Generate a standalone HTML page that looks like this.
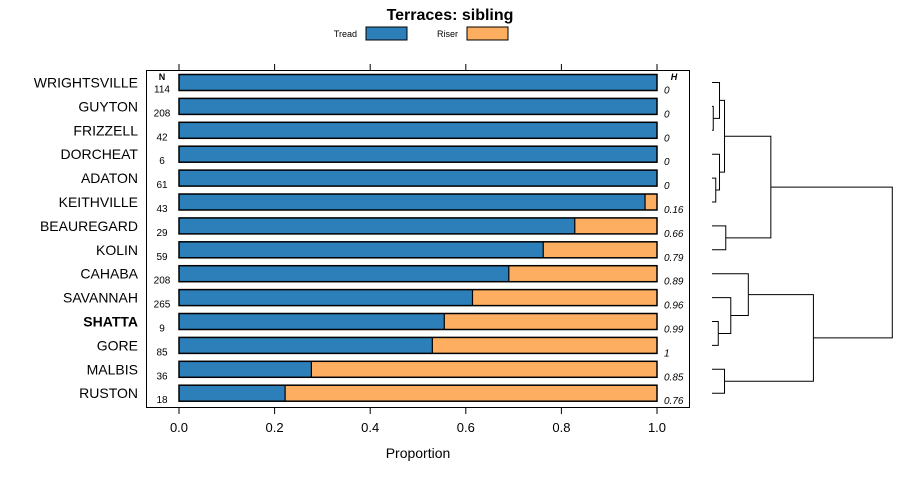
<!DOCTYPE html>
<html><head><meta charset="utf-8"><style>
body{margin:0;background:#fff;width:900px;height:480px;overflow:hidden}
svg{font-family:"Liberation Sans",sans-serif}
</style></head><body>
<svg id="chart" width="900" height="480"></svg>
<script>
const categories=["WRIGHTSVILLE","GUYTON","FRIZZELL","DORCHEAT","ADATON","KEITHVILLE","BEAUREGARD","KOLIN","CAHABA","SAVANNAH","SHATTA","GORE","MALBIS","RUSTON"];
const treadValues=[1,1,1,1,1,0.975,0.828,0.762,0.69,0.614,0.555,0.53,0.277,0.222];
const nValues=["114","208","42","6","61","43","29","59","208","265","9","85","36","18"];
const hValues=["0","0","0","0","0","0.16","0.66","0.79","0.89","0.96","0.99","1","0.85","0.76"];
const xTicks=[0,0.2,0.4,0.6,0.8,1];
const xTickLabels=["0.0","0.2","0.4","0.6","0.8","1.0"];
// dendrogram merges: [leftChild, rightChild, height]; children: leaf index (>=0) or -(mergeIndex+1)
const merges=[[1,2,0.5],[0,-1,3],[4,5,1.5],[3,-3,3],[-2,-4,5],[6,7,5.5],[-5,-6,23.5],[10,11,2.5],[9,-8,7.5],[8,-9,14.5],[12,13,5],[-10,-11,40.5],[-7,-12,72]];
const NS="http://www.w3.org/2000/svg";
const svg=document.getElementById('chart');
function mk(t,a,txt){const e=document.createElementNS(NS,t);for(const k in a)e.setAttribute(k,a[k]);if(txt!==undefined)e.textContent=txt;svg.appendChild(e);return e;}
const x0=179,x1=657;
const X=v=>x0+(x1-x0)*v;
const Y=i=>82.5+i*23.9;
const BLUE="#2c7fb8",ORANGE="#fdae61";
let e;
e=mk('text',{x:450,y:20,'text-anchor':'middle','font-size':16,'font-weight':'bold'},'Terraces: sibling');

e=mk('text',{x:357,y:37,'text-anchor':'end','font-size':9},'Tread');

e=mk('rect',{x:366,y:27,width:41,height:13,fill:BLUE,stroke:'#000','stroke-width':1});

e=mk('text',{x:458,y:37,'text-anchor':'end','font-size':9},'Riser');

e=mk('rect',{x:467,y:27,width:41,height:13,fill:ORANGE,stroke:'#000','stroke-width':1});

e=mk('rect',{x:146.5,y:70.5,width:543,height:337,fill:'none',stroke:'#000','stroke-width':1});

xTicks.forEach((t,k)=>{
  e=mk('line',{x1:X(t),x2:X(t),y1:408,y2:414,stroke:'#000'});
  
  e=mk('line',{x1:X(t),x2:X(t),y1:64,y2:70,stroke:'#000'});
  
  e=mk('text',{x:X(t),y:432,'text-anchor':'middle','font-size':13},xTickLabels[k]);
  
});
e=mk('text',{x:418,y:458,'text-anchor':'middle','font-size':14},'Proportion');

e=mk('text',{x:162,y:80,'text-anchor':'middle','font-size':9,'font-weight':'bold'},'N');

e=mk('text',{x:674,y:80,'text-anchor':'middle','font-size':9,'font-weight':'bold','font-style':'italic'},'H');

categories.forEach((c,i)=>{
  const y=Y(i),v=treadValues[i];
  e=mk('text',{x:138,y:y+5,'text-anchor':'end','font-size':14,'font-weight':c==='SHATTA'?'bold':'normal'},c);
  
  e=mk('rect',{x:X(0),y:y-8,width:X(v)-X(0),height:16,fill:BLUE,stroke:'none'});
  
  e=mk('rect',{x:X(v),y:y-8,width:X(1)-X(v),height:16,fill:ORANGE,stroke:'none'});
  
  e=mk('rect',{x:X(0),y:y-8,width:X(1)-X(0),height:16,fill:'none',stroke:'#000','stroke-width':1.5});
  
  if(v<1){e=mk('line',{x1:X(v),x2:X(v),y1:y-8,y2:y+8,stroke:'#000','stroke-width':1.2});
  }
  e=mk('text',{x:162,y:y+10,'text-anchor':'middle','font-size':10},nValues[i]);
  
  e=mk('text',{x:664,y:y+11,'font-size':10,'font-style':'italic'},hValues[i]);
  
});
// dendrogram
const dx0=712,dScale=(892.3-712)/72;
const DX=h=>dx0+h*dScale;
const nodes=[];
function node(c){return c>=0?{y:Y(c),h:0}:nodes[-c-1];}
merges.forEach(m=>{
  const a=node(m[0]),b=node(m[1]),hx=DX(m[2]);
  e=mk('path',{d:`M${DX(a.h)},${a.y}H${hx}V${b.y}H${DX(b.h)}`,fill:'none',stroke:'#000','stroke-width':1});
  
  nodes.push({y:(a.y+b.y)/2,h:m[2]});
});
</script>
</body></html>
